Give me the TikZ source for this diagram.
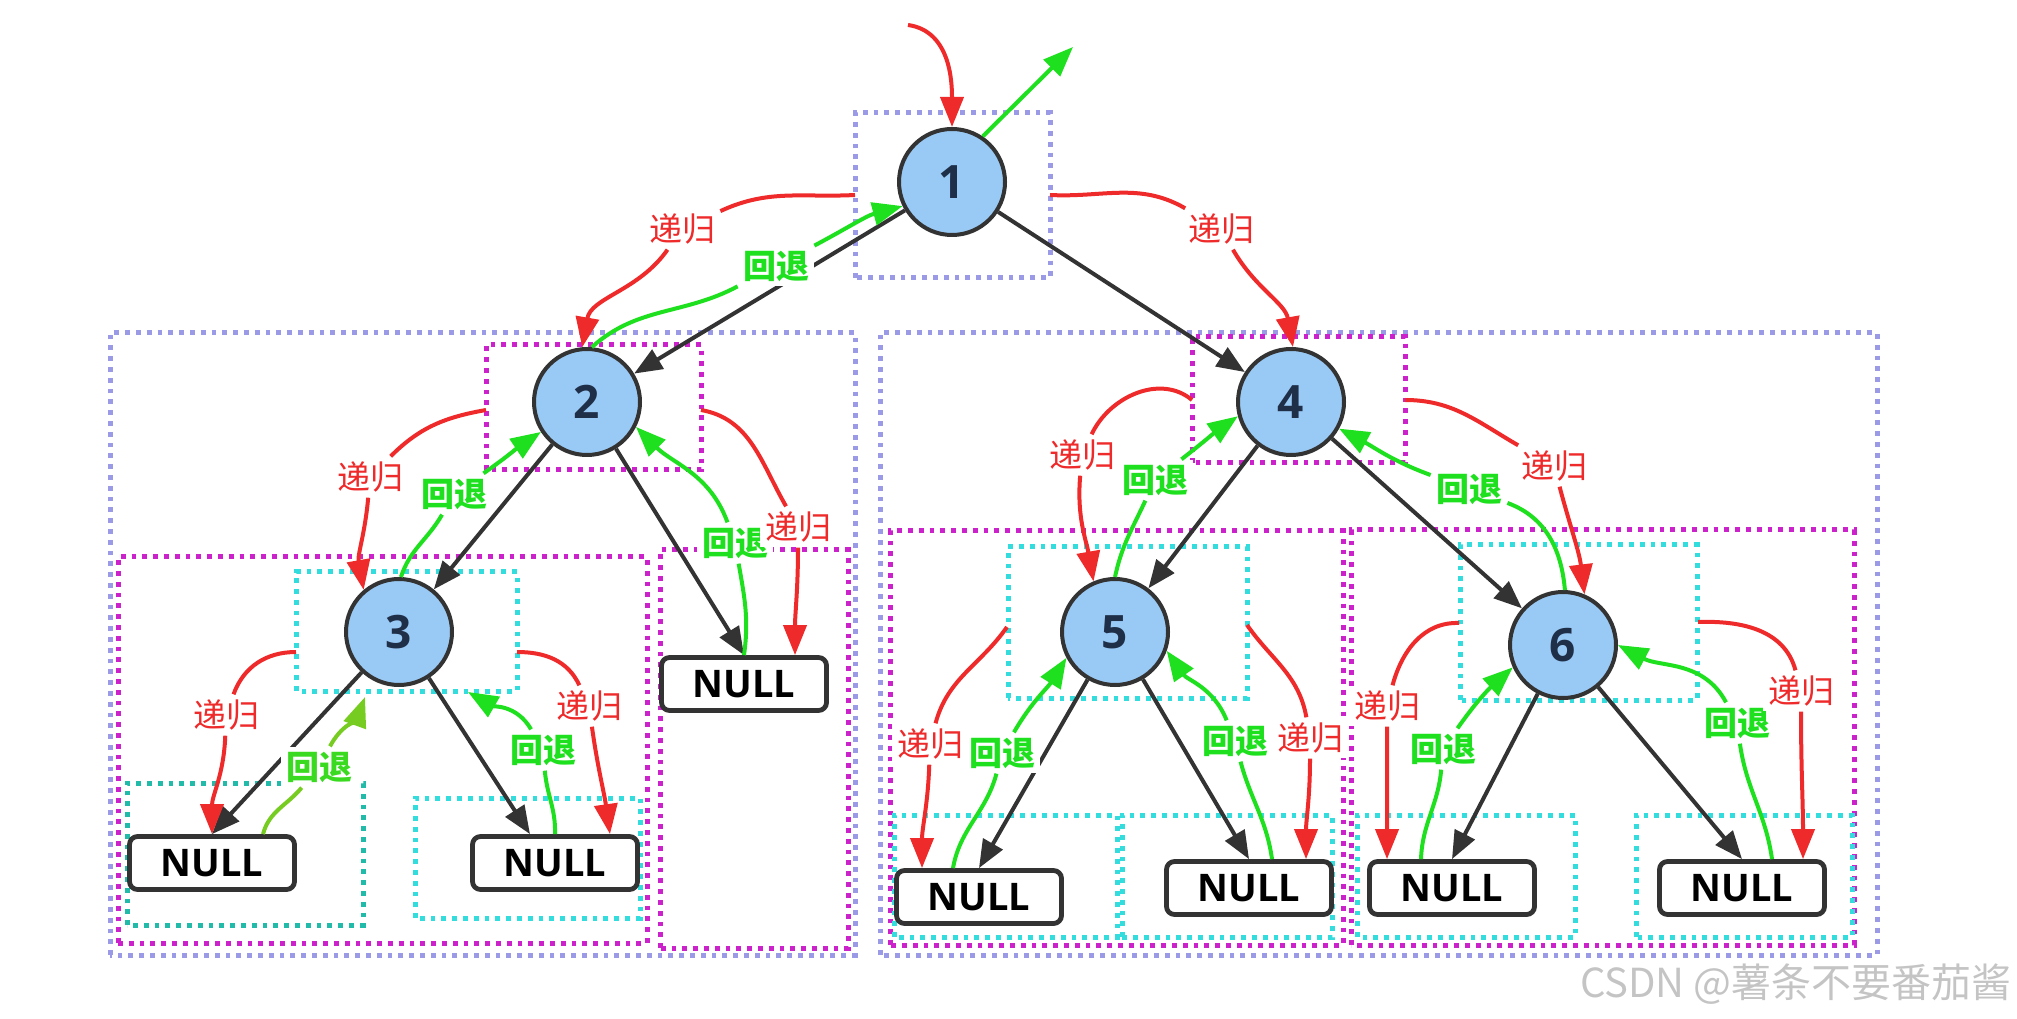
\documentclass[tikz,border=0pt]{standalone}
\usepackage{fontspec}
\setmainfont{Open Sans}
\newfontfamily\cjk{Noto Sans CJK SC}
\usetikzlibrary{arrows.meta,calc}
\definecolor{lav}{HTML}{9A9AE6}
\definecolor{mag}{HTML}{CC22CC}
\definecolor{cya}{HTML}{33DDDD}
\definecolor{tea}{HTML}{22BBAA}
\definecolor{nodeblue}{HTML}{99C9F5}
\definecolor{dark}{HTML}{333333}
\definecolor{navy}{HTML}{1F2F48}
\definecolor{recred}{HTML}{EE2A2A}
\definecolor{bakgreen}{HTML}{1EE01E}
\definecolor{yelgreen}{HTML}{77CC22}
\definecolor{wmgray}{HTML}{C4C4C4}
\begin{document}
\begin{tikzpicture}[x=0.5pt,y=0.5pt,
  tnode/.style={circle,draw=dark,line width=2pt,fill=nodeblue,minimum size=53pt,inner sep=0pt,
    font=\bfseries\fontsize{23}{23}\selectfont,text=navy},
  nullbox/.style={rectangle,rounded corners=4pt,draw=dark,line width=2.4pt,fill=white,
    minimum width=82.5pt,minimum height=26.5pt,inner sep=0pt,font=\bfseries\fontsize{19}{19}\selectfont},
  dotbox/.style={line width=2.5pt,dash pattern=on 2.4pt off 3pt},
  lavbox/.style={dotbox,draw=lav},
  magbox/.style={dotbox,draw=mag},
  cyabox/.style={dotbox,draw=cya},
  teabox/.style={dotbox,draw=tea},
  treeedge/.style={draw=dark,line width=2pt,-{Triangle[length=14pt,width=11pt]}},
  rec/.style={draw=recred,line width=2pt,-{Triangle[length=15pt,width=11.5pt]}},
  bak/.style={draw=bakgreen,line width=2pt,-{Triangle[length=15pt,width=11.5pt]}},
  bakyg/.style={draw=yelgreen,line width=2pt,-{Triangle[length=15pt,width=11.5pt]}},
  lab/.style={fill=white,inner sep=2.5pt,font=\cjk\fontsize{16.5}{16.5}\selectfont},
  recl/.style={lab,text=recred},
  bakl/.style={lab,text=bakgreen,font=\cjk\bfseries\fontsize{16.5}{16.5}\selectfont},
  bakylab/.style={lab,text=bakgreen!70!yelgreen,font=\cjk\bfseries\fontsize{16.5}{16.5}\selectfont}
]
\useasboundingbox (0,0) rectangle (2017,1018);

% ---- dotted frames ----
\draw[lavbox] (855,740) rectangle (1050,905);
\draw[lavbox] (110,63) rectangle (855,685);
\draw[lavbox] (880,63) rectangle (1877,685);
\draw[magbox] (486,548) rectangle (701,673);
\draw[magbox] (118,75) rectangle (647,461);
\draw[magbox] (660,70) rectangle (848,468);
\draw[magbox] (1192,555) rectangle (1405,681);
\draw[magbox] (890,73) rectangle (1343,487);
\draw[magbox] (1351,73) rectangle (1854,488);
\draw[cyabox] (296,327) rectangle (517,446);
\draw[teabox] (127,93) rectangle (363,235);
\draw[cyabox] (415,100) rectangle (640,220);
\draw[cyabox] (1008,320) rectangle (1247,471);
\draw[cyabox] (1460,318) rectangle (1697,473);
\draw[cyabox] (894,81) rectangle (1117,203);
\draw[cyabox] (1122,81) rectangle (1332,203);
\draw[cyabox] (1357,81) rectangle (1575,203);
\draw[cyabox] (1636,81) rectangle (1852,203);

% ---- tree nodes ----
\node[tnode] (n1) at (952,836) {1};
\node[tnode] (n2) at (587,616) {2};
\node[tnode] (n3) at (399,386) {3};
\node[tnode] (n4) at (1291,616) {4};
\node[tnode] (n5) at (1115,386) {5};
\node[tnode] (n6) at (1563,373) {6};
\node[nullbox] (N3L) at (212,155) {NULL};
\node[nullbox] (N3R) at (555,155) {NULL};
\node[nullbox] (N2R) at (744,334) {NULL};
\node[nullbox] (N5L) at (979,121) {NULL};
\node[nullbox] (N5R) at (1249,130) {NULL};
\node[nullbox] (N6L) at (1452,130) {NULL};
\node[nullbox] (N6R) at (1742,130) {NULL};

% ---- tree edges ----
\draw[treeedge] (n1) -- (n2);
\draw[treeedge] (n1) -- (n4);
\draw[treeedge] (n2) -- (n3);
\draw[treeedge] (n2) -- (N2R.north);
\draw[treeedge] (n3) -- (N3L.north);
\draw[treeedge] (n3) -- ($(N3R.north)+(-25,0)$);
\draw[treeedge] (n4) -- (n5);
\draw[treeedge] (n4) -- (n6);
\draw[treeedge] (n5) -- (N5L.north);
\draw[treeedge] (n5) -- (N5R.north);
\draw[treeedge] (n6) -- (N6L.north);
\draw[treeedge] (n6) -- (N6R.north);

% ---- labels ----
\node[recl] (Lr1) at (682,789) {递归};
\node[bakl] (Lg1) at (776,752) {回退};
\node[recl] (Lr2) at (1221,789) {递归};
\node[recl] (Lr3) at (370,541) {递归};
\node[bakl] (Lg2) at (454,524) {回退};
\node[bakl] (Lg3) at (735,475) {回退};
\node[recl] (Lr4) at (798,491) {递归};
\node[recl] (Lr5) at (226,303) {递归};
\node[bakylab] (Lg4) at (319,251) {回退};
\node[bakl] (Lg5) at (543,268) {回退};
\node[recl] (Lr6) at (589,312) {递归};
\node[recl] (Lr7) at (1082,563) {递归};
\node[bakl] (Lg6) at (1155,538) {回退};
\node[bakl] (Lg7) at (1469,529) {回退};
\node[recl] (Lr8) at (1554,552) {递归};
\node[recl] (Lr9) at (930,274) {递归};
\node[bakl] (Lg8) at (1002,265) {回退};
\node[bakl] (Lg9) at (1235,277) {回退};
\node[recl] (Lr10) at (1310,280) {递归};
\node[recl] (Lr11) at (1387,312) {递归};
\node[bakl] (Lg10) at (1443,269) {回退};
\node[bakl] (Lg11) at (1737,295) {回退};
\node[recl] (Lr12) at (1801,327) {递归};

% ---- free ends ----
\coordinate (r0) at (908,993);
\coordinate (g0) at (1073,971);
\coordinate (r1) at (855,823);
\coordinate (r2) at (1050,823);
\coordinate (r3) at (486,608);
\coordinate (r4) at (701,608);
\coordinate (r5) at (296,366);
\coordinate (r6) at (517,366);
\coordinate (r7) at (1192,618);
\coordinate (r8) at (1405,618);
\coordinate (r9) at (1007,391);
\coordinate (r10) at (1247,393);
\coordinate (r11) at (1459,395);
\coordinate (r12) at (1698,396);
\coordinate (g4t) at (365,321);
\coordinate (g5t) at (468,326);

% ---- recursion (red) ----
\draw[rec] (r0) to[out=-8,in=90] (n1.north);
\draw[rec] (r1) to[out=183,in=25] (Lr1) to[out=235,in=80] (n2.95);
\draw[rec] (r2) to[out=-3,in=150] (Lr2) to[out=-60,in=100] (n4.88);
\draw[rec] (r3) to[out=190,in=45] (Lr3) to[out=-95,in=100] (n3.130);
\draw[rec] (r4) to[out=-10,in=120] (Lr4) to[out=-90,in=90] ($(N2R.north)+(51,0)$);
\draw[rec] (r5) to[out=180,in=70] (Lr5) to[out=-92,in=90] (N3L.north);
\draw[rec] (r6) to[out=0,in=115] (Lr6) to[out=-82,in=98] ($(N3R.north)+(55,0)$);
\draw[rec] (r7) to[out=140,in=65] (Lr7) to[out=-95,in=100] (n5.113);
\draw[rec] (r8) to[out=0,in=150] (Lr8) to[out=-75,in=97] (n6.67);
\draw[rec] (r9) to[out=235,in=75] (Lr9) to[out=-92,in=90] ($(N5L.north)+(-57,0)$);
\draw[rec] (r10) to[out=-55,in=100] (Lr10) to[out=-90,in=90] ($(N5R.north)+(57,0)$);
\draw[rec] (r11) to[out=178,in=75] (Lr11) to[out=-90,in=90] ($(N6L.north)+(-65,0)$);
\draw[rec] (r12) to[out=2,in=105] (Lr12) to[out=-90,in=90] ($(N6R.north)+(61,0)$);

% ---- backtracking (green) ----
\draw[bak] (n1.56) -- (g0);
\draw[bak] (n2.85) to[out=42,in=208] (Lg1) to[out=28,in=195] (n1.206);
\draw[bak] (n3.88) to[out=72,in=240] (Lg2) to[out=35,in=214] (n2.213);
\draw[bak] (N2R.north) to[out=82,in=-80] (Lg3) to[out=110,in=-45] (n2.333);
\draw[bakyg] ($(N3L.north)+(51,0)$) to[out=75,in=230] (Lg4) to[out=62,in=250] (g4t);
\draw[bak] (N3R.north) to[out=88,in=-85] (Lg5) to[out=120,in=-30] (g5t);
\draw[bak] (n5.90) to[out=78,in=245] (Lg6) to[out=38,in=215] (n4.195);
\draw[bak] (n6.88) to[out=95,in=-20] (Lg7) to[out=160,in=-28] (n4.331);
\draw[bak] ($(N5L.north)+(-26,0)$) to[out=80,in=255] (Lg8) to[out=60,in=238] (n5.208);
\draw[bak] ($(N5R.north)+(23,0)$) to[out=98,in=-75] (Lg9) to[out=112,in=-55] (n5.340);
\draw[bak] ($(N6L.north)+(-31,0)$) to[out=88,in=265] (Lg10) to[out=55,in=222] (n6.204);
\draw[bak] ($(N6R.north)+(30,0)$) to[out=98,in=-82] (Lg11) to[out=118,in=-28] (n6.0);

% ---- watermark ----
\node[anchor=east,inner sep=0pt,text=wmgray,font=\cjk\fontsize{20}{20}\selectfont] (wm) at (2012,34) {CSDN @薯条不要番茄酱};
\end{tikzpicture}
\end{document}
